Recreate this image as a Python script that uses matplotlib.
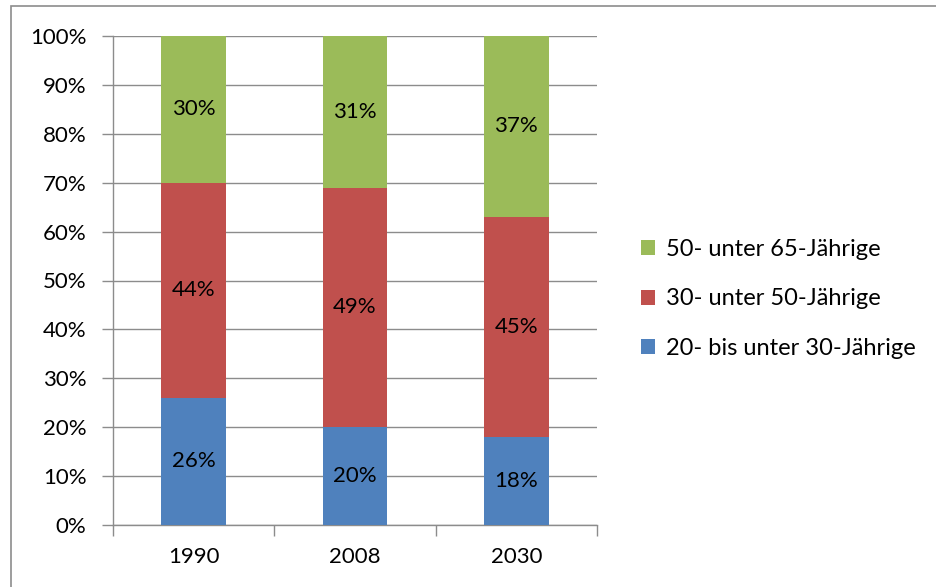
import matplotlib
matplotlib.use("Agg")
import matplotlib.pyplot as plt
from matplotlib.patches import Patch, Rectangle
from matplotlib.ticker import FuncFormatter, MultipleLocator

years = ["1990", "2008", "2030"]
young = [26, 20, 18]      # 20- bis unter 30-Jährige
middle = [44, 49, 45]     # 30- unter 50-Jährige
older = [30, 31, 37]      # 50- unter 65-Jährige
labels = ["20- bis unter 30-Jährige", "30- unter 50-Jährige", "50- unter 65-Jährige"]
colors = ["#4F81BD", "#C0504D", "#9BBB59"]

plt.rcParams['font.family'] = ['Lato', 'DejaVu Sans']
FS = 16
LFS = 17

fig = plt.figure(figsize=(9.37, 5.87), dpi=100)
ax = fig.add_axes([113/937, 62/587, 484/937, 489/587])

x = list(range(len(years)))
w = 0.4
series = [young, middle, older]
bottom = [0] * len(years)
for vals, col, lab in zip(series, colors, labels):
    ax.bar(x, vals, w, bottom=bottom, color=col, label=lab, zorder=3)
    for xi, b, v in zip(x, bottom, vals):
        ax.text(xi, b + v / 2, f"{v}%", ha="center", va="center", fontsize=FS, color="black", zorder=4)
    bottom = [b + v for b, v in zip(bottom, vals)]

ax.set_xlim(-0.5, 2.5)
ax.set_ylim(0, 100)
ax.yaxis.set_major_locator(MultipleLocator(10))
ax.yaxis.set_major_formatter(FuncFormatter(lambda v, p: f"{int(v)}%"))
ax.set_xticks(x)
ax.set_xticklabels(years)
ax.set_xticks([-0.5, 0.5, 1.5, 2.5], minor=True)

grid_col = "#8C8C8C"
ax.grid(axis="y", color=grid_col, linewidth=1, zorder=0)
for s in ["top", "right"]:
    ax.spines[s].set_visible(False)
for s in ["left", "bottom"]:
    ax.spines[s].set_color(grid_col)
    ax.spines[s].set_linewidth(1)
ax.tick_params(axis="y", length=8, width=1, color=grid_col, labelsize=FS, pad=11)
ax.tick_params(axis="x", which="major", length=0, labelsize=FS, pad=16)
ax.tick_params(axis="x", which="minor", length=8, width=1, color=grid_col)

handles = [Patch(facecolor=c) for c in colors[::-1]]
fig.legend(handles, labels[::-1], loc="center left", bbox_to_anchor=(620/937, 1 - 299/587),
           frameon=False, fontsize=LFS, handlelength=0.6, handleheight=0.6,
           handletextpad=0.45, labelspacing=1.2)

fig.patches.append(Rectangle((11/937, -0.05), 1.0, 1 - 6/587 + 0.05, transform=fig.transFigure,
                             fill=False, edgecolor="#8C8C8C", linewidth=1.2))

fig.savefig("out.png", dpi=100)
